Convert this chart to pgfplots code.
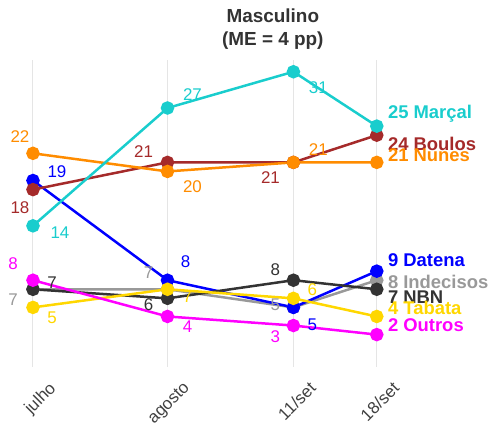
\documentclass[border=0pt]{standalone}
\usepackage{pgfplots}
\pgfplotsset{compat=1.18}
\usepackage{fontspec}
\setmainfont{Liberation Sans}
\usetikzlibrary{calc}
\definecolor{marcal}{RGB}{25,205,205}
\definecolor{boulos}{RGB}{165,42,42}
\definecolor{nunes}{RGB}{255,140,0}
\definecolor{datena}{RGB}{0,0,255}
\definecolor{indec}{RGB}{153,153,153}
\definecolor{nbn}{RGB}{51,51,51}
\definecolor{tabata}{RGB}{255,215,0}
\definecolor{outros}{RGB}{255,0,255}
\begin{document}
\begin{tikzpicture}
\begin{axis}[
  scale only axis, width=344bp, height=307bp,
  xmin=0, xmax=344, ymin=-1.55, ymax=32.3,
  clip=false,
  axis line style={draw=none},
  major tick length=0pt,
  xtick={0,134.6,260.6,344},
  xticklabels={julho,agosto,11/set,18/set},
  ytick=\empty,
  xmajorgrids, grid style={black!10, line width=1bp},
  x tick label style={rotate=45, anchor=north east, xshift=4bp, yshift=-17bp, font=\fontsize{17}{19}\selectfont, text=black!75},
  every axis plot/.append style={line width=2.5bp, mark=*, mark size=5.5bp, mark options={solid}},
  point meta=explicit symbolic,
  visualization depends on={value \thisrow{dx}\as\dx},
  visualization depends on={value \thisrow{dy}\as\dy},
  visualization depends on={value \thisrow{anc}\as\anc},
  nodes near coords,
  every node near coord/.append style={anchor=\anc, xshift=\dx bp, yshift=\dy bp, inner sep=0pt, font=\fontsize{17}{19}\selectfont},
]
\addplot[indec, every node near coord/.append style={text=indec}] table[meta=lab] {
x y dx dy anc lab
0 7 -20 -10 center 7
134.6 7 -19 17 center 7
260.6 5 -18 3 center 5
344 8 10 -2 west {\fontsize{18.5}{20}\selectfont\textbf{8 Indecisos}}
};
\addplot[datena, every node near coord/.append style={text=datena}] table[meta=lab] {
x y dx dy anc lab
0 19 24 9 center 19
134.6 8 18 19 center 8
260.6 5 19 -17 center 5
344 9 10 11 west {\fontsize{18.5}{20}\selectfont\textbf{9 Datena}}
};
\addplot[nbn, every node near coord/.append style={text=nbn}] table[meta=lab] {
x y dx dy anc lab
0 7 19 7 center 7
134.6 6 -19 -6 center 6
260.6 8 -18 11 center 8
344 7 10 -8 west {\fontsize{18.5}{20}\selectfont\textbf{7 NBN}}
};
\addplot[tabata, every node near coord/.append style={text=tabata}] table[meta=lab] {
x y dx dy anc lab
0 5 19 -10 center 5
134.6 7 20 -7 center 7
260.6 6 19 9 center 6
344 4 10 9 west {\fontsize{18.5}{20}\selectfont\textbf{4 Tabata}}
};
\addplot[outros, every node near coord/.append style={text=outros}] table[meta=lab] {
x y dx dy anc lab
0 8 -20 17 center 8
134.6 4 20 -10 center 4
260.6 3 -18 -11 center 3
344 2 10 9 west {\fontsize{18.5}{20}\selectfont\textbf{2 Outros}}
};
\addplot[boulos, every node near coord/.append style={text=boulos}] table[meta=lab] {
x y dx dy anc lab
0 18 -13 -18 center 18
134.6 21 -24 11 center 21
260.6 21 -23 -15 center 21
344 24 10 -9 west {\fontsize{18.5}{20}\selectfont\textbf{24 Boulos}}
};
\addplot[nunes, every node near coord/.append style={text=nunes}] table[meta=lab] {
x y dx dy anc lab
0 22 -13 17 center 22
134.6 20 25 -15 center 20
260.6 21 25 13 center 21
344 21 10 7 west {\fontsize{18.5}{20}\selectfont\textbf{21 Nunes}}
};
\addplot[marcal, every node near coord/.append style={text=marcal}] table[meta=lab] {
x y dx dy anc lab
0 14 27 -7 center 14
134.6 27 25 13 center 27
260.6 31 25 -16 center 31
344 25 10 12 west {\fontsize{18.5}{20}\selectfont\textbf{25 Marçal}}
};
\node[anchor=north, align=center, inner sep=0pt, font=\fontsize{19}{24}\selectfont\bfseries, text=black!80]
  at (rel axis cs:0.6977,1.169) {Masculino\\(ME = 4 pp)};
\end{axis}
\pgfresetboundingbox
\path ($(current axis.south west)+(-33bp,-58bp)$) rectangle ($(current axis.north east)+(117.3bp,60bp)$);
\end{tikzpicture}
\end{document}
